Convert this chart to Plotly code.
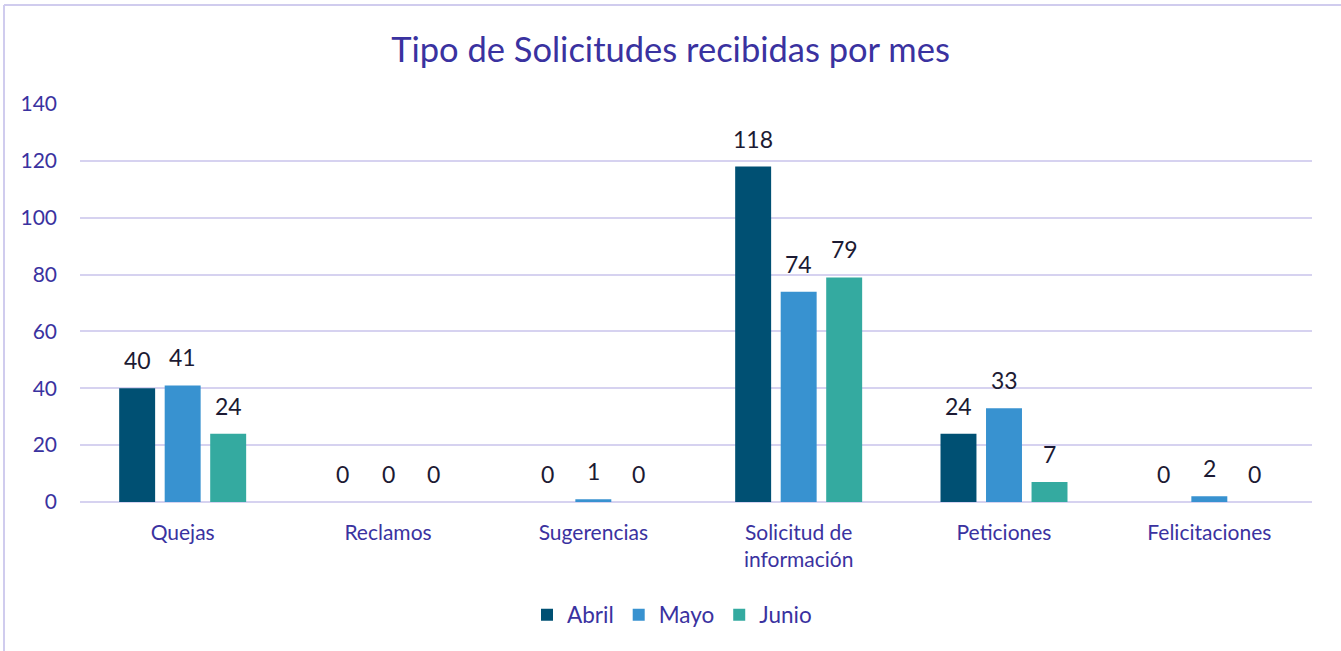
import plotly.graph_objects as go

categories = ["Quejas", "Reclamos", "Sugerencias", "Solicitud de<br>información", "Peticiones", "Felicitaciones"]
abril = [40, 0, 0, 118, 24, 0]
mayo = [41, 0, 1, 74, 33, 2]
junio = [24, 0, 0, 79, 7, 0]
series = [("Abril", abril, "#005073"), ("Mayo", mayo, "#3892D0"), ("Junio", junio, "#34AAA0")]

FONT = "Lato"
W, H = 1341, 651
L, T = 80, 104
R = W - 1312
B = H - 502
pw, ph = W - L - R, H - T - B
BARGAP, GROUPGAP = 0.335, 0.21

fig = go.Figure()
n = len(series)
slot = (1 - BARGAP) / n
cat_px = pw / len(categories)
for i, (name, vals, col) in enumerate(series):
    fig.add_trace(go.Bar(
        x=categories, y=vals, name=name, marker=dict(color=col, line=dict(width=0)),
        hoverinfo="x+y+name",
    ))
    shift = (-(1 - BARGAP) / 2 + slot * (i + 0.5)) * cat_px
    for c, v in zip(categories, vals):
        fig.add_annotation(x=c, y=v, text=str(v), showarrow=False, xref="x", yref="y",
                           xshift=shift, yshift=28, yanchor="middle",
                           font=dict(family=FONT, size=23, color="#1c1a33"))

fig.update_layout(
    width=W, height=H,
    margin=dict(l=L, r=R, t=T, b=B, autoexpand=False),
    paper_bgcolor="white", plot_bgcolor="white",
    barmode="group", bargap=BARGAP, bargroupgap=GROUPGAP,
    title=dict(text="Tipo de Solicitudes recibidas por mes", x=0.5, xanchor="center",
               y=1 - 50 / H, yanchor="middle",
               font=dict(family=FONT, size=34.5, color="#3a32a0")),
    font=dict(family=FONT, color="#3a32a0"),
    legend=dict(orientation="h", x=(672 - L) / pw, xanchor="center", y=-(615 - 502) / ph, yanchor="middle",
                font=dict(family=FONT, size=22.5, color="#3a32a0"), itemwidth=30),
)
fig.update_yaxes(range=[0, 140], dtick=20, showgrid=True, gridcolor="#d6d2f0", gridwidth=2,
                 zeroline=True, zerolinecolor="#d6d2f0", zerolinewidth=2,
                 tickfont=dict(family=FONT, size=21, color="#3a32a0"), ticks="", ticklabelstandoff=22)
fig.update_xaxes(showgrid=False, showline=False, tickfont=dict(family=FONT, size=21, color="#3a32a0"),
                 ticks="", ticklabelstandoff=16)

# outer border of the chart area: top and left edges only are visible
bx0, by1 = (4 - L) / pw, (502 - 5) / ph
fig.add_shape(type="line", xref="paper", yref="paper", x0=bx0, x1=(W - L) / pw, y0=by1, y1=by1,
              line=dict(color="#d0ccee", width=2), layer="below")
fig.add_shape(type="line", xref="paper", yref="paper", x0=bx0, x1=bx0, y0=-(H - 502) / ph, y1=by1,
              line=dict(color="#d0ccee", width=2), layer="below")

fig.write_html("out.html", config={"displayModeBar": False},
               post_script="document.body.style.margin='0';document.body.style.overflow='hidden';")
